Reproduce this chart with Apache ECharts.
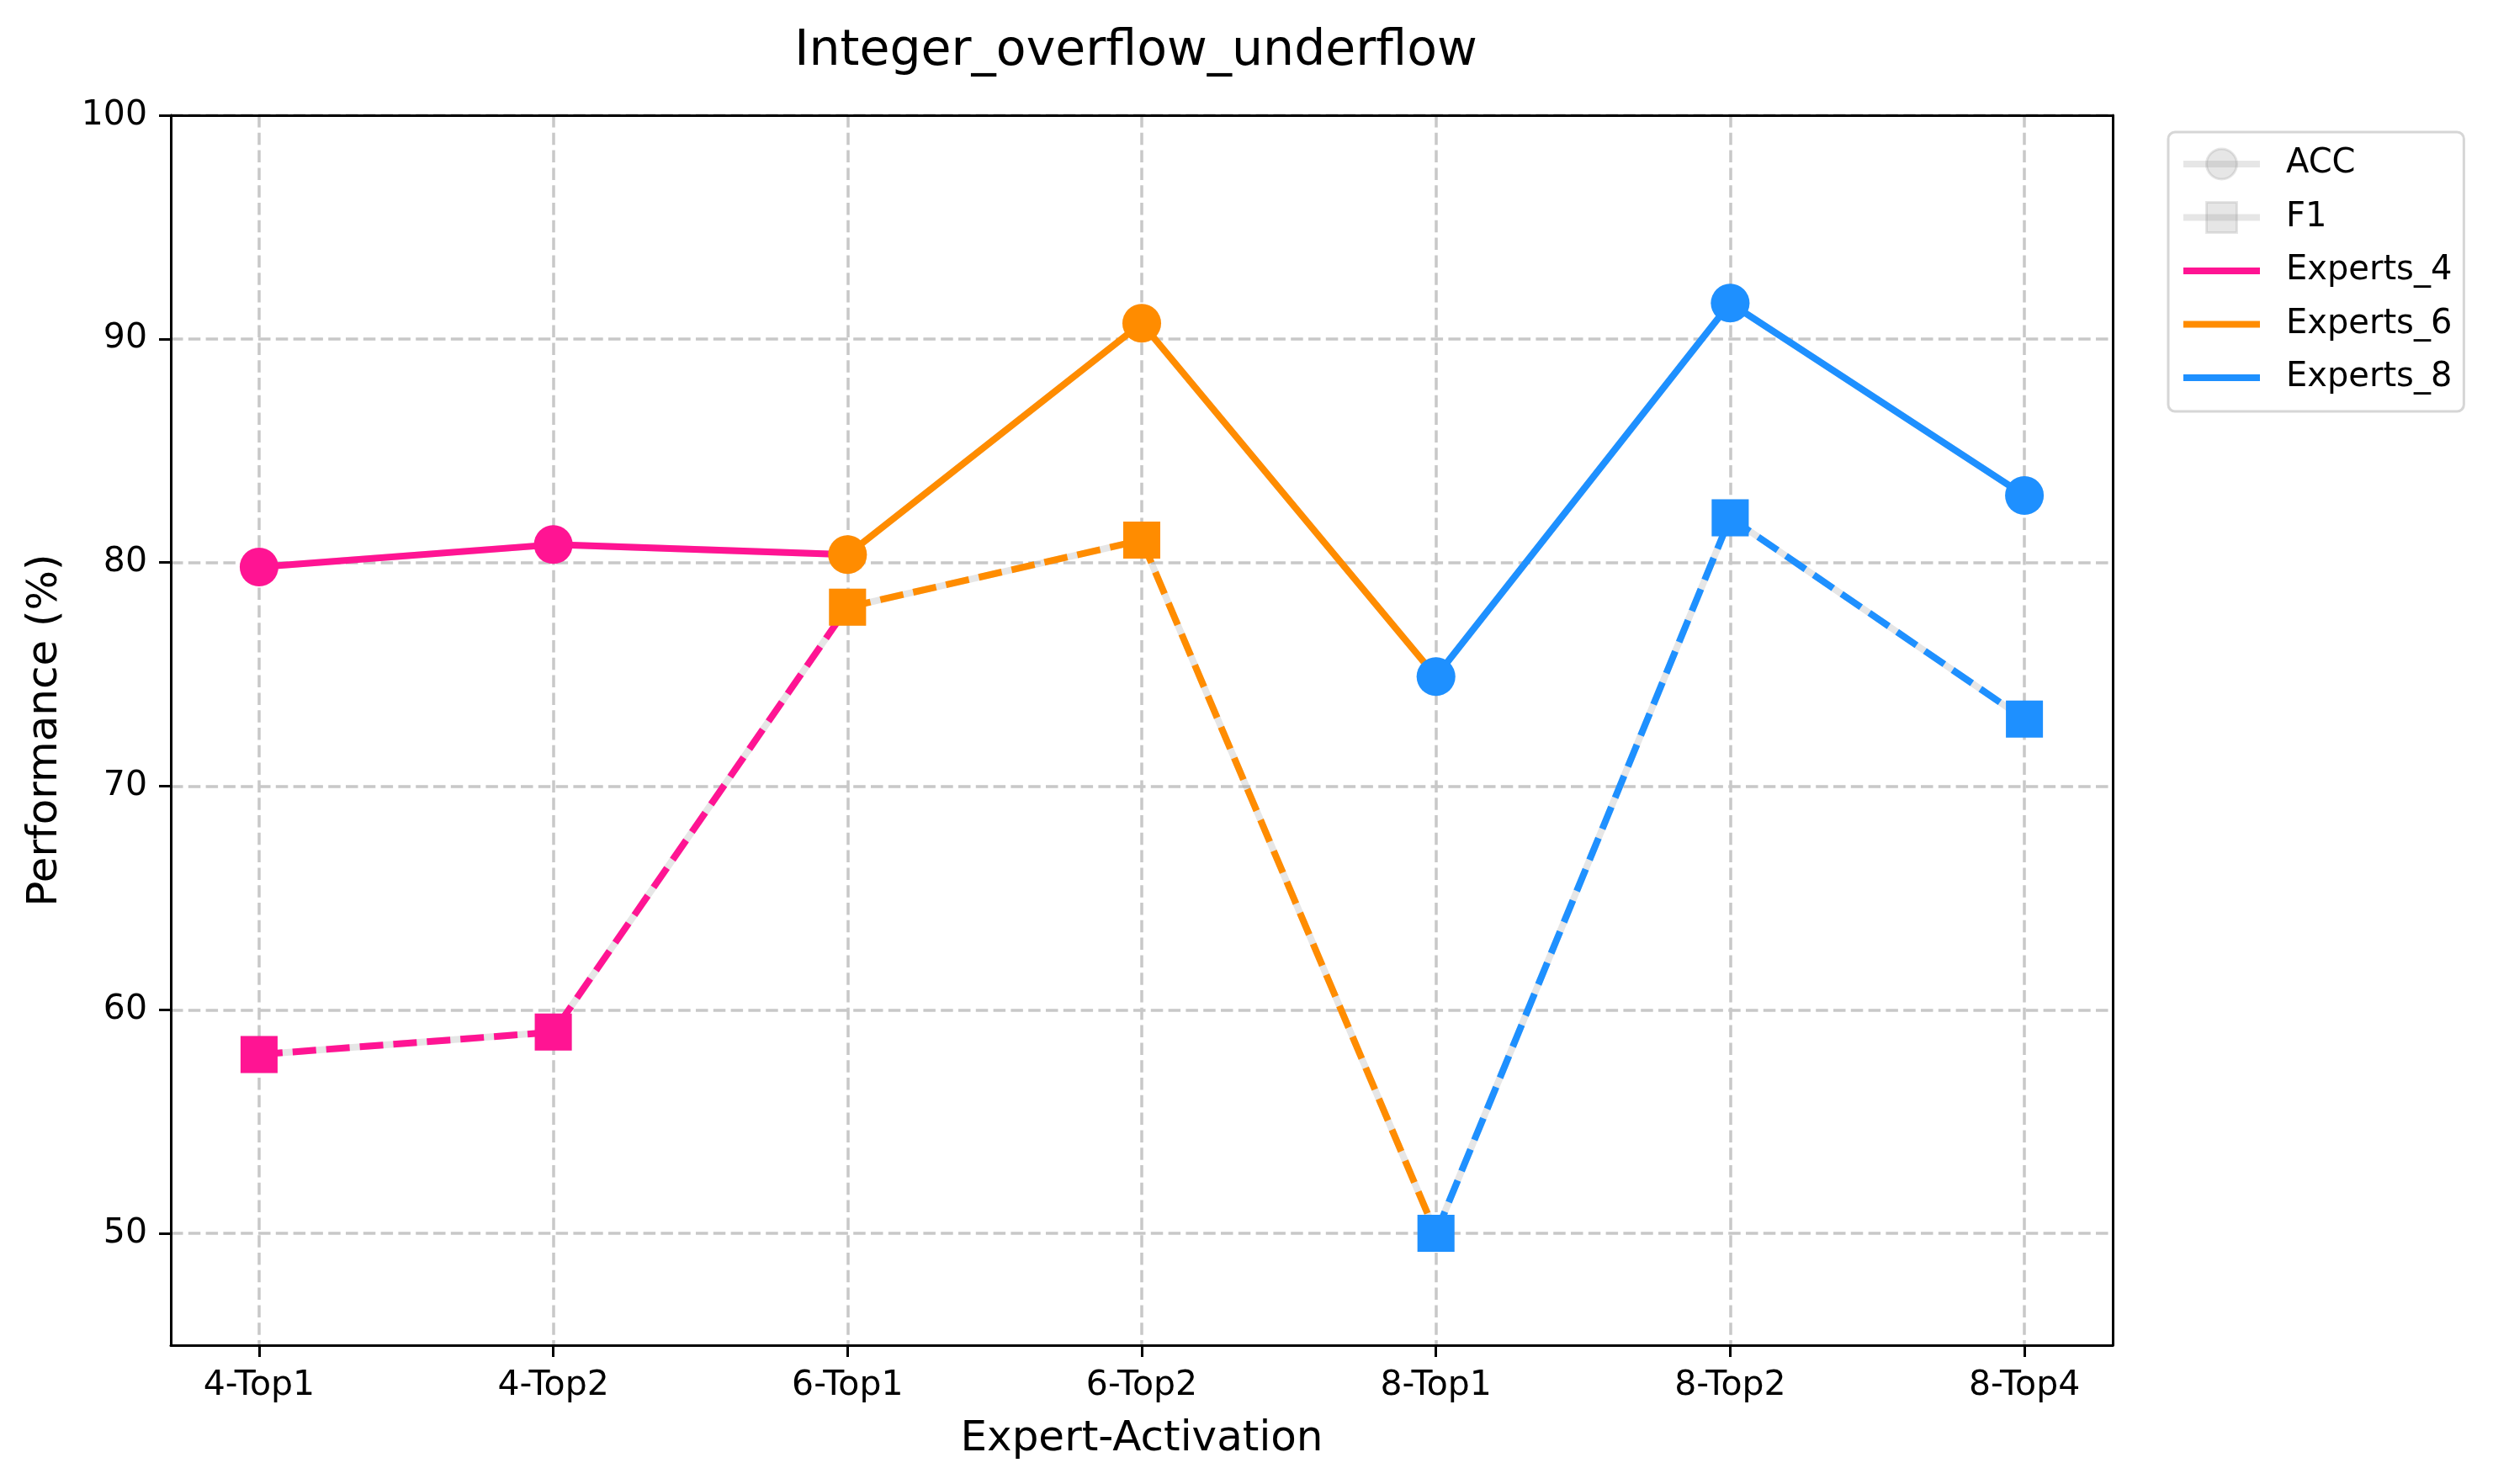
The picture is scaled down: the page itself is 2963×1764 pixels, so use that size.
<!DOCTYPE html>
<html>
<head>
<meta charset="utf-8">
<script src="https://cdn.jsdelivr.net/npm/echarts@6/dist/echarts.min.js"></script>
<style>
html,body{margin:0;padding:0;background:#fff;}
#chart{width:2963px;height:1764px;}
</style>
</head>
<body>
<div id="chart"></div>
<script>
// ---- data ----
const categories = ['4-Top1', '4-Top2', '6-Top1', '6-Top2', '8-Top1', '8-Top2', '8-Top4'];
const expertGroups = [4, 4, 6, 6, 8, 8, 8];
const accValues = [79.8, 80.8, 80.35, 90.7, 74.9, 91.6, 83.0];
const f1Values = [58.0, 59.0, 78.0, 81.0, 50.0, 82.0, 73.0];
const groupKeys = [4, 6, 8];
const groupNames = ['Experts_4', 'Experts_6', 'Experts_8'];
const yTickValues = [50, 60, 70, 80, 90, 100];

// ---- styles ----
const groupColors = { 4: '#FF1493', 6: '#FF8C00', 8: '#1E90FF' };
const grayAlpha = 'rgba(128,128,128,0.2)';
const FONT = 'DejaVu Sans';
const LW = 8;

function segData(values, g) {
  const idx = [];
  expertGroups.forEach((e, i) => { if (e === g) idx.push(i); });
  const pts = idx.map(i => ({ value: [i, values[i]] }));
  const last = idx[idx.length - 1];
  if (last + 1 < values.length) {
    pts.push({ value: [last + 1, values[last + 1]], symbol: 'none' });
  }
  return pts;
}

const series = [];
series.push({
  name: 'ACC', type: 'line',
  data: accValues.map((v, i) => [i, v]),
  symbol: 'circle', symbolSize: 46,
  lineStyle: { color: grayAlpha, width: LW },
  itemStyle: { color: grayAlpha, borderWidth: 0 },
  z: 2
});
series.push({
  name: 'F1', type: 'line',
  data: f1Values.map((v, i) => [i, v]),
  symbol: 'rect', symbolSize: 44,
  lineStyle: { color: grayAlpha, width: LW },
  itemStyle: { color: grayAlpha, borderWidth: 0 },
  z: 2
});
groupKeys.forEach((g, k) => {
  const c = groupColors[g];
  series.push({
    name: groupNames[k] + ' ACC', type: 'line',
    data: segData(accValues, g),
    symbol: 'circle', symbolSize: 46,
    lineStyle: { color: c, width: LW },
    itemStyle: { color: c },
    z: 3
  });
  series.push({
    name: groupNames[k] + ' F1', type: 'line',
    data: segData(f1Values, g),
    symbol: 'rect', symbolSize: 44,
    lineStyle: { color: c, width: LW, type: [28, 12] },
    itemStyle: { color: c },
    z: 3
  });
});
// legend-only entries
groupKeys.forEach((g, k) => {
  series.push({
    name: groupNames[k], type: 'line', data: [],
    symbol: 'none',
    lineStyle: { color: groupColors[g], width: LW },
    itemStyle: { color: groupColors[g] }
  });
});

const tickStyle = { color: '#000', width: 3 };
const gridLine = { show: true, lineStyle: { color: '#c8c8c8', width: 3.5, type: [14.5, 6.3] } };

const chart = echarts.init(document.getElementById('chart'), null, { renderer: 'canvas' });
chart.setOption({
  animation: false,
  backgroundColor: '#fff',
  title: {
    text: 'Integer_overflow_underflow',
    left: 1345, top: 27, textAlign: 'center',
    textStyle: { fontFamily: FONT, fontSize: 58.5, fontWeight: 'normal', color: '#000' }
  },
  grid: { left: 203, top: 137, right: 452, bottom: 165, show: false },
  legend: {
    orient: 'vertical', left: 2577, top: 157,
    padding: [18, 14, 20, 14],
    itemWidth: 91, itemHeight: 45, itemGap: 23.5,
    borderColor: '#d6d6d6', borderWidth: 3, borderRadius: 8,
    backgroundColor: 'rgba(255,255,255,0.8)',
    textStyle: { fontFamily: FONT, fontSize: 40, color: '#000', padding: [0, 0, 0, 26] },
    data: [
      { name: 'ACC', itemStyle: { borderColor: grayAlpha, borderWidth: 3 }, lineStyle: { width: LW, color: grayAlpha } },
      { name: 'F1', itemStyle: { borderColor: grayAlpha, borderWidth: 3 }, lineStyle: { width: LW, color: grayAlpha } },
      { name: 'Experts_4', itemStyle: { opacity: 0 }, lineStyle: { width: LW, color: groupColors[4] } },
      { name: 'Experts_6', itemStyle: { opacity: 0 }, lineStyle: { width: LW, color: groupColors[6] } },
      { name: 'Experts_8', itemStyle: { opacity: 0 }, lineStyle: { width: LW, color: groupColors[8] } }
    ]
  },
  xAxis: [{
    type: 'value', min: -0.3, max: 6.3,
    name: 'Expert-Activation', nameLocation: 'middle', nameGap: 87,
    nameTextStyle: { fontFamily: FONT, fontSize: 50, color: '#000' },
    axisLine: { show: true, onZero: false, lineStyle: tickStyle },
    axisTick: { show: true, inside: false, length: 14, lineStyle: tickStyle,
      customValues: categories.map((c, i) => i) },
    axisLabel: { fontFamily: FONT, fontSize: 41, color: '#000', margin: 28,
      customValues: categories.map((c, i) => i),
      formatter: v => categories[Math.round(v)] },
    splitLine: gridLine
  }, {
    type: 'value', min: -0.3, max: 6.3, position: 'top', z: 5,
    axisLine: { show: true, onZero: false, lineStyle: tickStyle },
    axisTick: { show: false }, axisLabel: { show: false }, splitLine: { show: false }
  }],
  yAxis: [{
    type: 'value', min: 45, max: 100,
    name: 'Performance (%)', nameLocation: 'middle', nameGap: 124,
    nameTextStyle: { fontFamily: FONT, fontSize: 50, color: '#000' },
    axisLine: { show: true, onZero: false, lineStyle: tickStyle },
    axisTick: { show: true, inside: false, length: 14, lineStyle: tickStyle,
      customValues: yTickValues },
    axisLabel: { fontFamily: FONT, fontSize: 41, color: '#000', margin: 28,
      customValues: yTickValues },
    splitLine: gridLine
  }, {
    type: 'value', min: 45, max: 100, position: 'right', z: 5,
    axisLine: { show: true, onZero: false, lineStyle: tickStyle },
    axisTick: { show: false }, axisLabel: { show: false }, splitLine: { show: false }
  }],
  series: series
});
</script>
</body>
</html>
